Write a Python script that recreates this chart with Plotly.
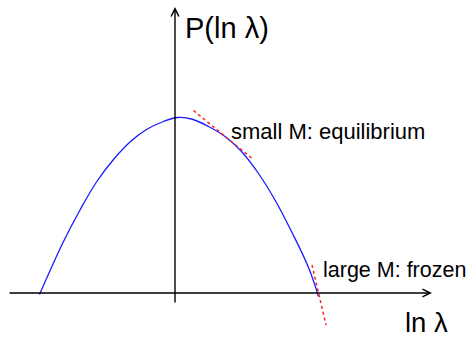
import plotly.graph_objects as go

# blue curve (x = ln lambda, y = P)
ln_lam = [-2.71, -2.23, -1.90, -1.57, -1.23, -0.90, -0.57, -0.23, 0.06,
          0.33, 0.67, 1.00, 1.33, 1.67, 2.00, 2.33, 2.67, 2.87]
p_curve = [-0.03, 1.03, 1.66, 2.22, 2.67, 3.02, 3.27, 3.43, 3.51,
           3.48, 3.33, 3.13, 2.83, 2.39, 1.86, 1.23, 0.51, -0.07]

# red dotted approximations
eq_x = [0.37, 1.53]
eq_y = [3.65, 2.70]
fr_x = [2.74, 3.02]
fr_y = [0.56, -0.64]

# axes ends (start, tip)
xaxis_line = [-3.34, 5.14]
yaxis_line = [-0.22, 5.72]

fig = go.Figure()
fig.add_trace(go.Scatter(x=ln_lam, y=p_curve, mode="lines",
                         line=dict(color="#1a1aff", width=1.3, shape="spline", smoothing=1.1)))
fig.add_trace(go.Scatter(x=eq_x, y=eq_y, mode="lines",
                         line=dict(color="#ff2020", width=1.5, dash="dot")))
fig.add_trace(go.Scatter(x=fr_x, y=fr_y, mode="lines",
                         line=dict(color="#ff2020", width=1.5, dash="dot")))

# the two axes drawn as arrows
fig.add_annotation(x=xaxis_line[1], y=0, ax=xaxis_line[0], ay=0, axref="x", ayref="y",
                   xref="x", yref="y", text="", showarrow=True, arrowhead=5,
                   arrowsize=1.1, arrowwidth=1.4, arrowcolor="black")
fig.add_annotation(x=0, y=yaxis_line[1], ax=0, ay=yaxis_line[0], axref="x", ayref="y",
                   xref="x", yref="y", text="", showarrow=True, arrowhead=5,
                   arrowsize=1.1, arrowwidth=1.4, arrowcolor="black")

font = "Liberation Sans, Arial, sans-serif"
labels = [
    (0.18, 5.31, "P(ln λ)", 29),
    (4.58, -0.58, "ln λ", 27.5),
    (1.10, 3.23, "small M: equilibrium", 22),
    (2.94, 0.47, "large M: frozen", 21.5),
]
for lx, ly, txt, size in labels:
    fig.add_annotation(x=lx, y=ly, text=txt, showarrow=False, xanchor="left", yanchor="middle",
                       borderpad=0, font=dict(family=font, size=size, color="black"))

fig.update_xaxes(range=[-3.5, 5.96], visible=False)
fig.update_yaxes(range=[-0.88, 5.86], visible=False)
fig.update_layout(width=473, height=337, margin=dict(l=0, r=0, t=0, b=0),
                  showlegend=False, plot_bgcolor="white", paper_bgcolor="white")

# drop the browser's default body margin so the figure fills the window exactly
fig.write_html("out.html", config={"displayModeBar": False},
               post_script="document.body.style.margin='0';document.body.style.overflow='hidden';")
